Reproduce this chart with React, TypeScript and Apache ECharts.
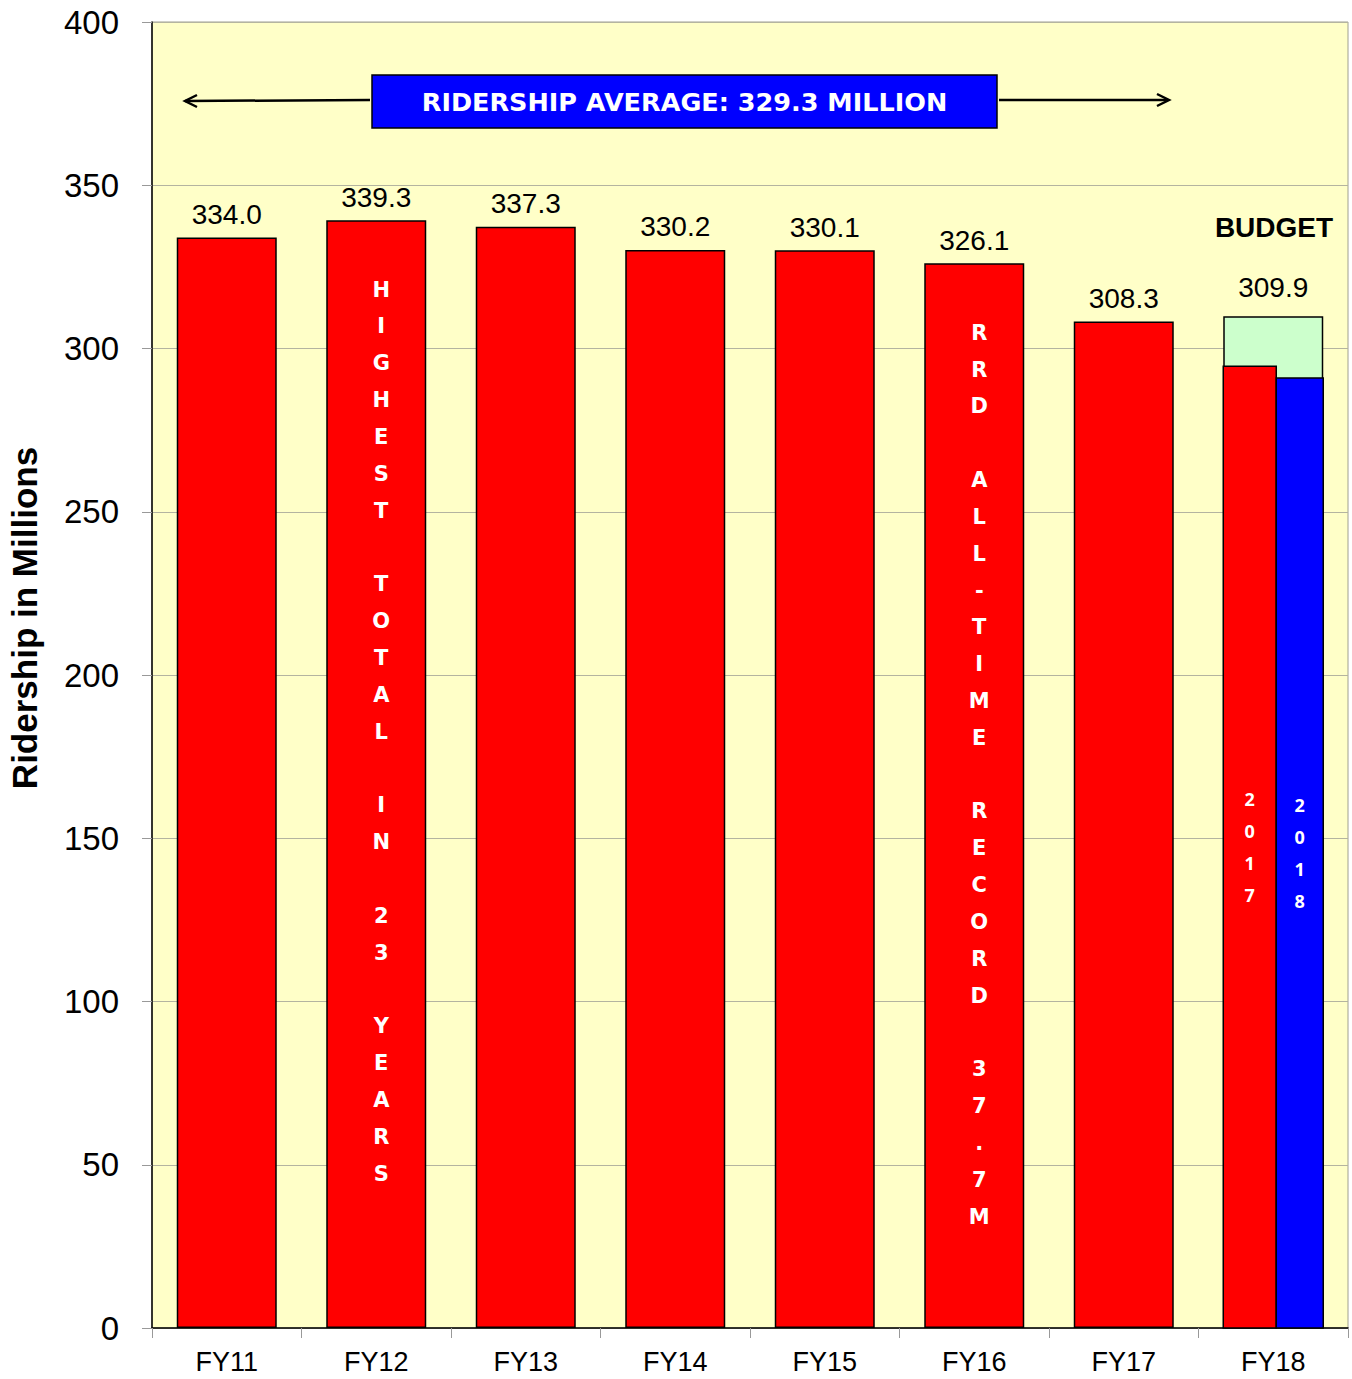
import React, { useEffect, useRef } from "react";
import * as echarts from "echarts";

const categories = ["FY11", "FY12", "FY13", "FY14", "FY15", "FY16", "FY17", "FY18"];
const ridership = [334.0, 339.3, 337.3, 330.2, 330.1, 326.1, 308.3, null];
const budget = [null, null, null, null, null, null, null, 309.9];
const fy18Years = ["2017", "2018"];
const fy18Values = [294.6, 291.0];
const noteIndex = [1, 5];
const noteTexts = ["HIGHEST TOTAL IN 23 YEARS", "RRD ALL-TIME RECORD 37.7M"];
const averageText = "RIDERSHIP AVERAGE: 329.3 MILLION";
const budgetText = "BUDGET";
const yMin = 0;
const yMax = 400;
const yStep = 50;

const stackChars = (s: string) => s.split("").map((c) => (c === " " ? " " : c)).join("\n");

export default function App() {
  const ref = useRef<HTMLDivElement>(null);
  useEffect(() => {
    document.body.style.margin = "0";
    if (!ref.current) return;
    const chart = echarts.init(ref.current, null, { renderer: "svg" });
    const notesData = ridership.map((v, i) => (noteIndex.includes(i) ? v : null));
    const splitData = fy18Values.map((v, i) => [7, v, i]);
    const sans = "'Liberation Sans', Arial, sans-serif";
    const boldSans = "'DejaVu Sans', Verdana, sans-serif";
    chart.setOption({
      animation: false,
      grid: {
        left: 152,
        top: 22,
        right: 4,
        bottom: 51,
        outerBoundsMode: "none",
        containLabel: false,
        show: true,
        backgroundColor: "#FFFFC8",
        borderColor: "#A0A090",
        borderWidth: 1,
      },
      xAxis: {
        type: "category",
        data: categories,
        axisLine: { lineStyle: { color: "#000", width: 1.5 } },
        axisTick: { show: true, length: 10, lineStyle: { color: "#999" } },
        axisLabel: { color: "#000", fontSize: 27, fontFamily: sans, margin: 20 },
      },
      yAxis: {
        type: "value",
        min: yMin,
        max: yMax,
        interval: yStep,
        name: "Ridership in Millions",
        nameLocation: "middle",
        nameGap: 110,
        nameTextStyle: {
          fontSize: 35,
          fontWeight: "bold",
          fontFamily: sans,
          color: "#000",
          padding: [0, 0, 0, 114],
        },
        axisLine: { show: true, lineStyle: { color: "#000", width: 1.5 } },
        axisTick: { show: true, length: 10, lineStyle: { color: "#999" } },
        axisLabel: { color: "#000", fontSize: 33, fontFamily: sans, margin: 33 },
        splitLine: { lineStyle: { color: "#B4B4A0", width: 1 } },
      },
      series: [
        {
          name: "Ridership",
          type: "bar",
          data: ridership,
          barWidth: 100,
          barGap: "-100%",
          itemStyle: { color: "#FF0000", borderColor: "#000", borderWidth: 1.5 },
          label: {
            show: true,
            position: "top",
            distance: 9,
            fontSize: 28,
            fontFamily: sans,
            color: "#000",
            formatter: (p: any) => Number(p.value).toFixed(1),
          },
          z: 2,
        },
        {
          name: "Budget",
          type: "bar",
          data: budget,
          barWidth: 100,
          barGap: "-100%",
          itemStyle: { color: "#CCFFCC", borderColor: "#000", borderWidth: 1.5 },
          label: {
            show: true,
            position: "top",
            distance: 15,
            fontSize: 28,
            fontFamily: sans,
            color: "#000",
            formatter: (p: any) => Number(p.value).toFixed(1),
          },
          z: 2,
        },
        {
          name: "Notes",
          type: "bar",
          data: notesData,
          barWidth: 100,
          barGap: "-100%",
          silent: true,
          itemStyle: { color: "rgba(0,0,0,0)", borderWidth: 0 },
          label: {
            show: true,
            position: "insideTop",
            distance: 51,
            offset: [5, 0],
            fontSize: 21,
            fontWeight: "bold",
            fontFamily: boldSans,
            color: "#fff",
            lineHeight: 36.83,
            align: "center",
            formatter: (p: any) => stackChars(noteTexts[noteIndex.indexOf(p.dataIndex)]),
          },
          z: 5,
        },
        {
          name: "FY18 split",
          type: "custom",
          data: splitData,
          z: 4,
          renderItem: (params: any, api: any) => {
            const idx = api.value(0);
            const val = api.value(1);
            const part = api.value(2);
            const base = api.coord([idx, 0]);
            const top = api.coord([idx, val]);
            const full = 100;
            const redW = 53;
            const x = part === 0 ? base[0] - full / 2 : base[0] - full / 2 + redW;
            const w = part === 0 ? redW : full - redW;
            return {
              type: "rect",
              shape: { x, y: top[1], width: w, height: base[1] - top[1] },
              style: {
                fill: part === 0 ? "#FF0000" : "#0000FF",
                stroke: "#000",
                lineWidth: 1.5,
              },
              textContent: {
                style: {
                  text: stackChars(fy18Years[part]),
                  fill: "#fff",
                  font: "bold 18px 'Open Sans', sans-serif",
                  lineHeight: 32,
                  align: "center",
                },
              },
              textConfig: { position: "inside" },
            };
          },
        },
      ],
      graphic: [
        {
          type: "line",
          shape: { x1: 370, y1: 100, x2: 185, y2: 101 },
          style: { stroke: "#000", lineWidth: 2.5 },
        },
        {
          type: "polyline",
          shape: { points: [[197, 95], [185, 101], [197, 107]] },
          style: { stroke: "#000", lineWidth: 2.5, fill: null },
        },
        {
          type: "line",
          shape: { x1: 999, y1: 100, x2: 1168, y2: 100 },
          style: { stroke: "#000", lineWidth: 2.5 },
        },
        {
          type: "polyline",
          shape: { points: [[1157, 94], [1169, 100], [1157, 106]] },
          style: { stroke: "#000", lineWidth: 2.5, fill: null },
        },
        {
          type: "rect",
          shape: { x: 372, y: 75, width: 625, height: 53 },
          style: { fill: "#0000FF", stroke: "#000", lineWidth: 1.5 },
        },
        {
          type: "text",
          x: 684.5,
          y: 102,
          style: {
            text: averageText,
            fill: "#fff",
            font: "bold 25.5px 'DejaVu Sans', Verdana, sans-serif",
            align: "center",
            verticalAlign: "middle",
          },
        },
        {
          type: "text",
          x: 1274,
          y: 227,
          style: {
            text: budgetText,
            fill: "#000",
            font: "bold 28px 'Liberation Sans', Arial, sans-serif",
            align: "center",
            verticalAlign: "middle",
          },
        },
      ],
    });
    return () => chart.dispose();
  }, []);
  return <div ref={ref} style={{ width: 1352, height: 1379 }} />;
}
